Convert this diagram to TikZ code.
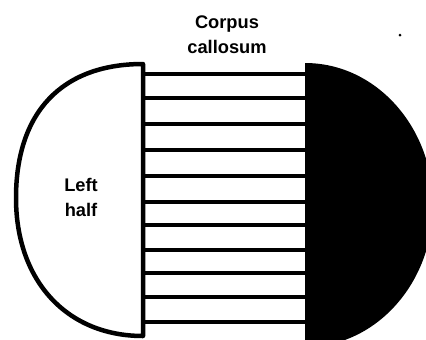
\documentclass[tikz,border=0pt]{standalone}
\usepackage{fontspec}
\setmainfont{Liberation Sans}
\usetikzlibrary{positioning}

\begin{document}
\begin{tikzpicture}[
    x=0.02cm, y=-0.02cm,
    halfwhite/.style={draw=black, line width=0.09cm, fill=white, line join=round},
    halfblack/.style={fill=black},
    fibre/.style={draw=black, line width=0.09cm},
    label/.style={align=center, font=\fontsize{10.4}{14.2}\selectfont\bfseries, inner sep=0pt}
]
    \useasboundingbox (0,0) rectangle (426,339);
    \clip (0,0) rectangle (426,339);

    % left hemisphere
    \draw[halfwhite] (143,64) .. controls (62,64) and (16,112) .. (16,198)
        .. controls (16,281) and (67,336) .. (143,336) -- cycle;
    % right hemisphere
    \fill[halfblack] (305,63) .. controls (376,63) and (433,127) .. (433,205)
        .. controls (433,283) and (376,347) .. (305,347) -- cycle;

    % corpus callosum fibres
    \foreach \y in {74,98,124,150,176,202,225,250,273,297,322}
        \draw[fibre] (143,\y) -- (305,\y);

    \node[label] (corpus) at (227,35) {Corpus\\callosum};
    \node[label] (left) at (81,197) {Left\\half};
    \fill (400,35) circle[radius=1.5];
\end{tikzpicture}
\end{document}
